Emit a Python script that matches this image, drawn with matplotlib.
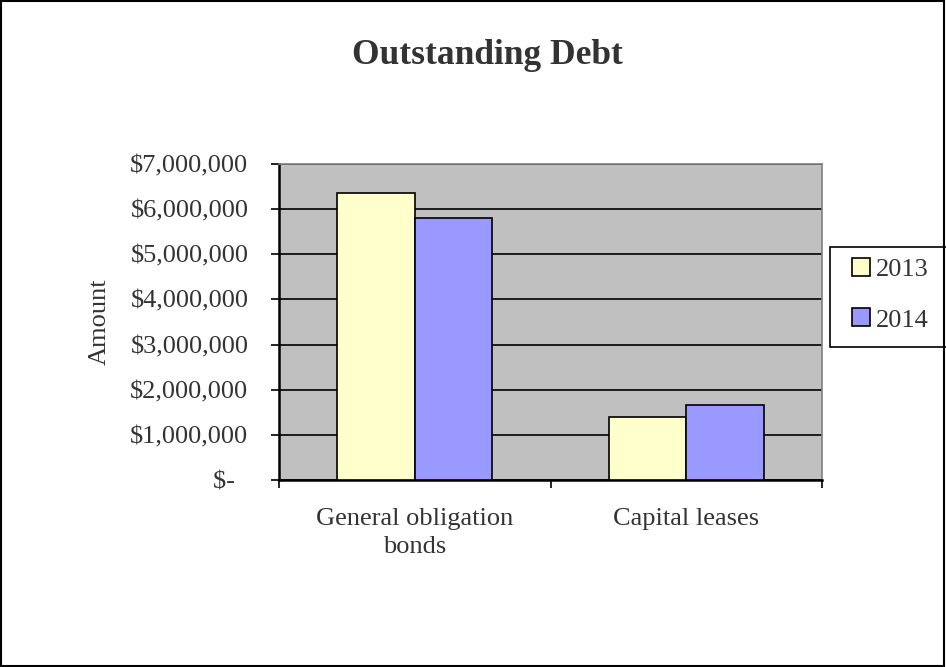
import matplotlib
matplotlib.use("Agg")
import matplotlib.pyplot as plt
import numpy as np
from matplotlib.patches import Rectangle

categories = ["General obligation\nbonds", "Capital leases"]
series_names = ["2013", "2014"]
values_2013 = [6350000, 1390000]
values_2014 = [5810000, 1660000]
colors = ["#FFFFCC", "#9999FF"]
yticks = [0, 1000000, 2000000, 3000000, 4000000, 5000000, 6000000, 7000000]
ytick_labels = ["$-  ", "$1,000,000", "$2,000,000", "$3,000,000", "$4,000,000",
                "$5,000,000", "$6,000,000", "$7,000,000"]

plt.rcParams['font.family'] = ['Liberation Serif', 'DejaVu Serif']
TXT = "#333333"
FS = 19

fig = plt.figure(figsize=(9.46, 6.67), dpi=100)
ax = fig.add_axes([279/946, 1-480/667, (822-279)/946, (480-164)/667])
ax.set_facecolor("#C0C0C0")

x = np.arange(len(categories))
w = 1/3.5
ax.bar(x - w/2, values_2013, w, color=colors[0], edgecolor="black", linewidth=1.2, label=series_names[0], zorder=3)
ax.bar(x + w/2, values_2014, w, color=colors[1], edgecolor="black", linewidth=1.2, label=series_names[1], zorder=3)

ax.set_xlim(-0.5, 1.5)
ax.set_ylim(0, 7000000)
ax.set_yticks(yticks)
ax.set_yticklabels(ytick_labels, fontsize=FS, color=TXT)
ax.set_xticks([-0.5, 0.5, 1.5])
ax.set_xticklabels([])
ax.set_xticks(x, minor=True)
ax.set_xticklabels(categories, minor=True, fontsize=FS, color=TXT, linespacing=1.35)
ax.tick_params(axis="x", which="minor", length=0, pad=20)
ax.tick_params(axis="x", which="major", length=6, width=1.2, direction="out")
ax.tick_params(axis="y", length=6, width=1.2, direction="out", pad=16)
ax.yaxis.grid(True, color="black", linewidth=1.2, zorder=1)
ax.set_axisbelow(True)

for s in ["left", "bottom"]:
    ax.spines[s].set_linewidth(1.8)
    ax.spines[s].set_color("black")
for s in ["top", "right"]:
    ax.spines[s].set_linewidth(1.2)
    ax.spines[s].set_color("#808080")

ax.set_ylabel("Amount", fontsize=FS, color=TXT, labelpad=14)

fig.text(487/946, 1-55/667, "Outstanding Debt", ha="center", va="center",
         fontsize=25.5, fontweight="bold", color=TXT)

# legend box drawn separately, legend entries placed inside it
fig.add_artist(Rectangle((830/946, 1-347/667), 120/946, 100/667, transform=fig.transFigure,
                         facecolor="white", edgecolor="black", linewidth=1.2, zorder=4))
leg = fig.legend(loc="upper left", bbox_to_anchor=(852/946, 1-258/667),
                 fontsize=FS, frameon=False, handlelength=0.68, handleheight=0.68,
                 handletextpad=0.22, labelspacing=1.02, borderpad=0, borderaxespad=0)
leg.set_zorder(5)
for t in leg.get_texts():
    t.set_color(TXT)

fig.add_artist(Rectangle((0.001, 0.002), 0.997, 0.996, transform=fig.transFigure,
                         fill=False, edgecolor="black", linewidth=1.5, zorder=6))

fig.savefig("out.png", dpi=100)
